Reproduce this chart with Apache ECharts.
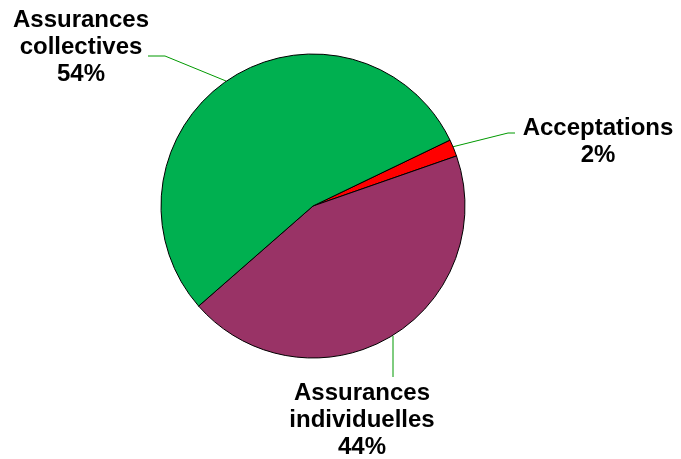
<!DOCTYPE html>
<html><head><meta charset="utf-8">
<script src="https://cdn.jsdelivr.net/npm/echarts@6/dist/echarts.min.js"></script>
<style>html,body{margin:0;padding:0;background:#fff}#c{width:681px;height:459px}</style>
</head><body><div id="c"></div>
<script>
var categories = ['Acceptations', 'Assurances\nindividuelles', 'Assurances\ncollectives'];
var values = [1.8, 43.9, 54.3];
var colors = ['#FF0000', '#993366', '#00B050'];

var labelPos = [
  {x: 598, y: 115, pts: [[452,147],[508,133],[515,133]]},
  {x: 362, y: 380, pts: [[393,336],[393,358],[393,377]]},
  {x: 81, y: 7, pts: [[226,81],[165,56],[148,56]]}
];

var chart = echarts.init(document.getElementById('c'), null, {renderer: 'canvas'});
chart.setOption({
  animation: false,
  series: [{
    type: 'pie',
    center: [313, 206],
    radius: 152,
    startAngle: 25.7,
    clockwise: true,
    percentPrecision: 0,
    data: categories.map(function (c, i) {
      return {name: c, value: values[i], itemStyle: {color: colors[i]}};
    }),
    itemStyle: {borderColor: '#000', borderWidth: 1},
    label: {
      show: true,
      formatter: '{b}\n{d}%',
      color: '#000',
      fontFamily: 'Liberation Sans, Arial, sans-serif',
      fontWeight: 'bold',
      fontSize: 24,
      lineHeight: 27,
      align: 'center'
    },
    labelLine: {show: true, lineStyle: {color: '#009900', width: 1}},
    labelLayout: function (p) {
      var l = labelPos[p.dataIndex];
      return {x: l.x, y: l.y, align: 'center', verticalAlign: 'top', labelLinePoints: l.pts};
    },
    emphasis: {disabled: true}
  }]
});
</script></body></html>
